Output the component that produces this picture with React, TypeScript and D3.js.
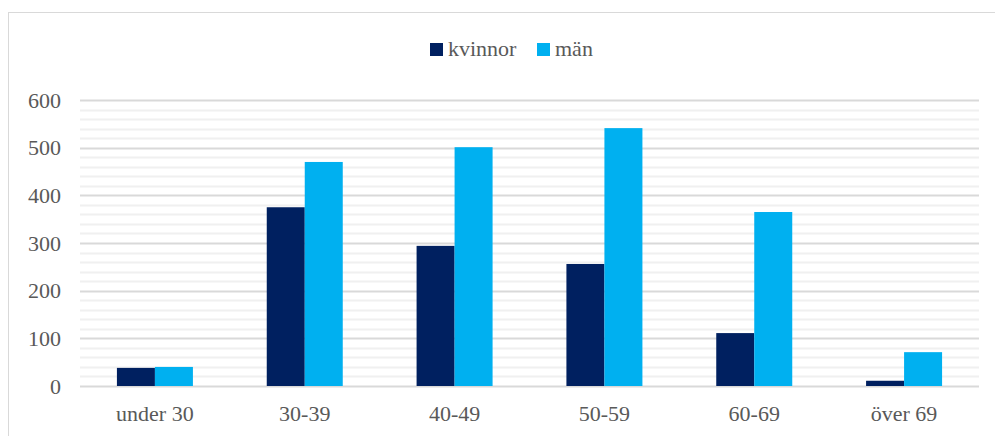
import React, { useEffect, useRef } from 'react';
import * as d3 from 'd3';

const categories = ['under 30', '30-39', '40-49', '50-59', '60-69', 'över 69'];
const seriesNames = ['kvinnor', 'män'];
const kvinnor = [38, 375, 294, 256, 111, 11];
const man = [40, 470, 501, 541, 365, 71];
const yTicks = [0, 100, 200, 300, 400, 500, 600];
const COLORS = ['#002060', '#00b0f0'];

export default function App() {
  const svgRef = useRef<SVGSVGElement>(null);

  useEffect(() => {
    if (!svgRef.current) return;
    const width = 995;
    const height = 436;
    const margin = { top: 100, right: 16, bottom: 50, left: 80 };
    const font = "'Liberation Serif', 'Times New Roman', serif";

    const svg = d3.select(svgRef.current);
    svg.selectAll('*').remove();

    // chart frame (only left and top show in the picture)
    svg.append('rect')
      .attr('x', 8.5).attr('y', 12.5)
      .attr('width', 1000).attr('height', 500)
      .attr('fill', '#fff')
      .attr('stroke', '#d9d9d9')
      .attr('stroke-width', 1);

    const x = d3.scaleBand()
      .domain(categories)
      .range([margin.left, width - margin.right])
      .paddingInner(0)
      .paddingOuter(0);

    const y = d3.scaleLinear()
      .domain([0, 600])
      .range([height - margin.bottom, margin.top]);

    // minor grid
    svg.append('g')
      .selectAll('line')
      .data(d3.range(0, 601, 20).filter(v => v % 100 !== 0))
      .enter()
      .append('line')
      .attr('x1', margin.left).attr('x2', width - margin.right)
      .attr('y1', d => Math.round(y(d)) + 0.5).attr('y2', d => Math.round(y(d)) + 0.5)
      .attr('stroke', '#f0f0f0')
      .attr('stroke-width', 2);

    // major grid
    svg.append('g')
      .selectAll('line')
      .data(yTicks)
      .enter()
      .append('line')
      .attr('x1', margin.left).attr('x2', width - margin.right)
      .attr('y1', d => Math.round(y(d)) + 0.5).attr('y2', d => Math.round(y(d)) + 0.5)
      .attr('stroke', '#d9d9d9')
      .attr('stroke-width', 2);

    const barW = 38;
    const series = [kvinnor, man];
    series.forEach((vals, si) => {
      svg.append('g')
        .selectAll('rect')
        .data(vals)
        .enter()
        .append('rect')
        .attr('x', (d, i) => x(categories[i])! + x.bandwidth() / 2 - barW + si * barW)
        .attr('y', d => y(d))
        .attr('width', barW)
        .attr('height', d => y(0) - y(d))
        .attr('fill', COLORS[si]);
    });

    // y axis labels
    svg.append('g')
      .selectAll('text')
      .data(yTicks)
      .enter()
      .append('text')
      .attr('x', 61)
      .attr('y', d => y(d))
      .attr('dy', '0.35em')
      .attr('text-anchor', 'end')
      .text(d => d)
      .attr('font-family', font)
      .attr('font-size', 22)
      .attr('fill', '#595959');

    // x axis labels
    svg.append('g')
      .selectAll('text')
      .data(categories)
      .enter()
      .append('text')
      .attr('x', d => x(d)! + x.bandwidth() / 2)
      .attr('y', 421)
      .attr('text-anchor', 'middle')
      .text(d => d)
      .attr('font-family', font)
      .attr('font-size', 22)
      .attr('fill', '#595959');

    // legend
    const legendPos = [430, 537];
    seriesNames.forEach((name, i) => {
      const g = svg.append('g').attr('transform', `translate(${legendPos[i]},0)`);
      g.append('rect')
        .attr('x', 0).attr('y', 43)
        .attr('width', 13).attr('height', 13)
        .attr('fill', COLORS[i]);
      g.append('text')
        .attr('x', 18).attr('y', 56)
        .text(name)
        .attr('font-family', font)
        .attr('font-size', 22)
        .attr('fill', '#595959');
    });
  }, []);

  return (
    <svg
      ref={svgRef}
      width={995}
      height={436}
      style={{ position: 'absolute', left: 0, top: 0, background: '#fff' }}
    />
  );
}
